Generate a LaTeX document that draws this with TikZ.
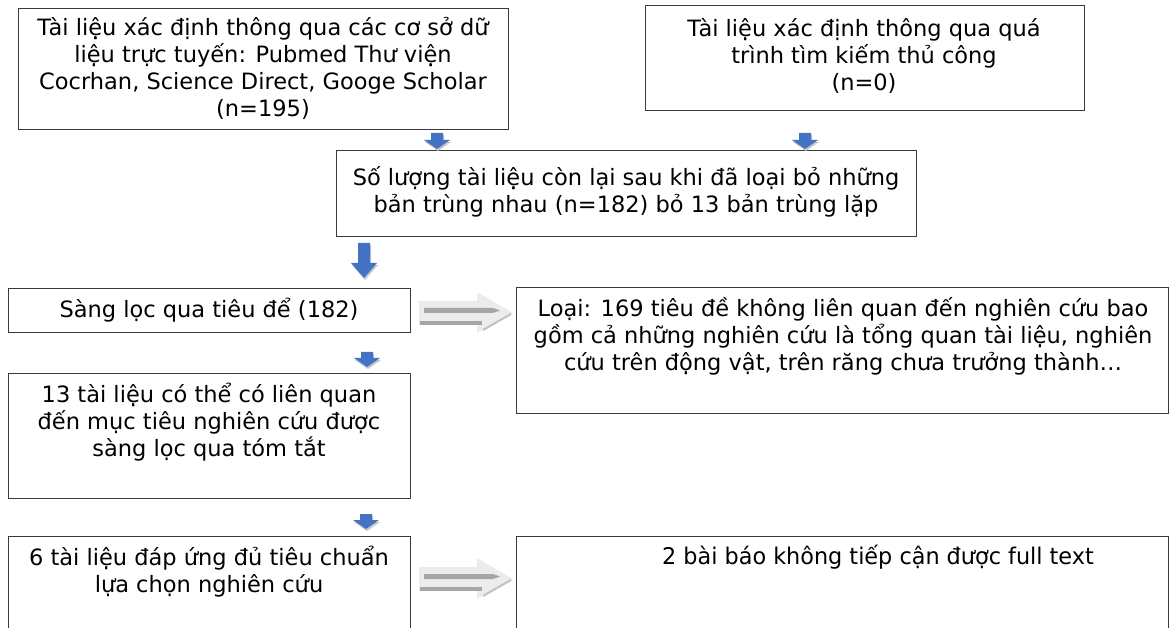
\documentclass[tikz,border=0pt]{standalone}
\usepackage{fontspec}
\setmainfont{DejaVu Sans}
\newfontfamily\condfont[FakeStretch=1.08]{DejaVu Sans Condensed}
\usetikzlibrary{calc}
\definecolor{arrowblue}{HTML}{4472C4}
\definecolor{framegray}{HTML}{3A3A3A}
\definecolor{lightarrow}{HTML}{ECECEC}
\definecolor{darkarrow}{HTML}{A6A6A6}
\tikzset{
  box/.style={draw=framegray, line width=1.3pt, anchor=north west, inner sep=0pt},
  txt/.style={align=center, font=\fontsize{22.5}{27}\selectfont, inner sep=0pt},
  pics/barrow/.style args={#1/#2}{code={
    \fill[black!22] (-5,2) -- (7,2) -- (7,{#1+2}) -- (14,{#1+2}) -- (1,{#1+#2+2}) -- (-12,{#1+2}) -- (-5,{#1+2}) -- cycle;
    \fill[arrowblue] (-6,0) -- (6,0) -- (6,#1) -- (13,#1) -- (0,{#1+#2}) -- (-13,#1) -- (-6,#1) -- cycle;
  }},
  pics/garrow/.style={code={
    \fill[lightarrow] (0,5) -- (58,5) -- (58,-4) -- (94,17) -- (58,37) -- (58,29) -- (0,29) -- cycle;
    \fill[darkarrow] (5,12) -- (74,12) -- (81,14.5) -- (74,17) -- (5,17) -- cycle;
    \fill[darkarrow] (1,25) -- (63,25) -- (63,29) -- (1,29) -- cycle;
    \draw[darkarrow!70, line width=2pt] (64,34) -- (92,18);
  }},
}
\begin{document}
\begin{tikzpicture}[x=1pt,y=-1pt]
\useasboundingbox (0,0) rectangle (1171,628);

% boxes
\node[box, minimum width=490pt, minimum height=121pt] (A) at (18,8) {};
\node[box, minimum width=439pt, minimum height=105pt] (B) at (645,5) {};
\node[box, minimum width=580pt, minimum height=86pt] (C) at (336,150) {};
\node[box, minimum width=402pt, minimum height=44pt] (D) at (8,288) {};
\node[box, minimum width=652pt, minimum height=126pt] (E) at (516,287) {};
\node[box, minimum width=402pt, minimum height=125pt] (F) at (8,373) {};
\node[box, minimum width=402pt, minimum height=110pt] (G) at (8,536) {};
\node[box, minimum width=652pt, minimum height=110pt] (H) at (516,536) {};

% texts
\node[txt] (tA) at (263,68) {Tài liệu xác định thông qua các cơ sở dữ\\liệu trực tuyến: Pubmed Thư viện\\Cocrhan, Science Direct, Googe Scholar\\(n=195)};
\node[txt] (tB) at (864,56) {Tài liệu xác định thông qua quá\\trình tìm kiếm thủ công\\(n=0)};
\node[txt] (tC) at (626,192) {Số lượng tài liệu còn lại sau khi đã loại bỏ những\\bản trùng nhau (n=182) bỏ 13 bản trùng lặp};
\node[txt] (tD) at (209,310) {Sàng lọc qua tiêu để (182)};
\node[txt] (tE) at (843,336) {Loại: 169 tiêu đề không liên quan đến nghiên cứu bao\\gồm cả những nghiên cứu là tổng quan tài liệu, nghiên\\cứu trên động vật, trên răng chưa trưởng thành…};
\node[txt] (tF) at (209,422) {13 tài liệu có thể có liên quan\\đến mục tiêu nghiên cứu được\\sàng lọc qua tóm tắt};
\node[txt] (tG) at (209,572) {6 tài liệu đáp ứng đủ tiêu chuẩn\\lựa chọn nghiên cứu};
\node[txt, anchor=west, font=\condfont\fontsize{23}{27}\selectfont] (tH) at (662,557) {2 bài báo không tiếp cận được full text};

% blue block arrows
\pic at (437,133) {barrow={7/9}};
\pic at (805,133) {barrow={7/9}};
\pic at (364,243) {barrow={20/15}};
\pic at (367,352) {barrow={6/9}};
\pic at (366,514) {barrow={6/9}};

% gray hollow arrows
\pic at (419,296) {garrow};
\pic at (419,562) {garrow};
\end{tikzpicture}
\end{document}
